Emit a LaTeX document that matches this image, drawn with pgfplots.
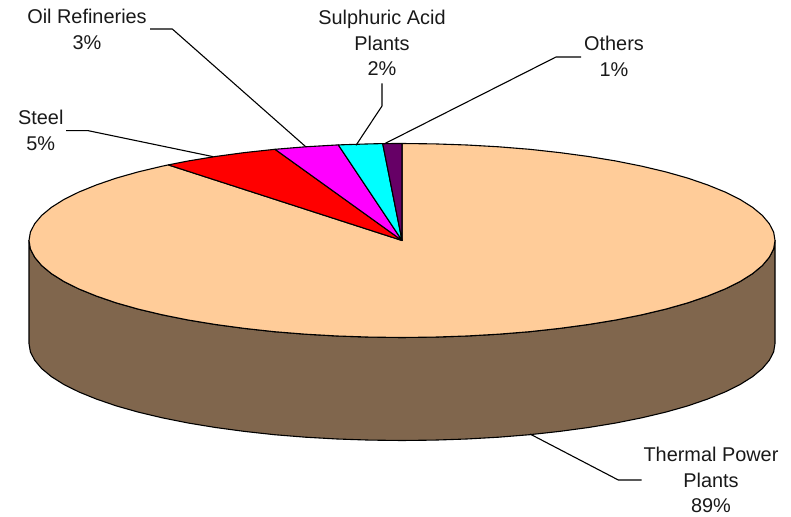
\documentclass[border=0pt]{standalone}
\usepackage{fontspec}
\setmainfont{Liberation Sans}
\usepackage{pgfplots}
\pgfplotsset{compat=1.18}
\definecolor{peach}{HTML}{FFCC99}
\definecolor{wall}{HTML}{80664D}
\definecolor{plum}{HTML}{660066}
\definecolor{purered}{HTML}{FF0000}
\definecolor{puremagenta}{HTML}{FF00FF}
\definecolor{purecyan}{HTML}{00FFFF}
\tikzset{lab/.style={font=\fontsize{19.9}{25.3}\selectfont, align=center, anchor=center, text=black!90, inner sep=0pt}}
\begin{document}
\begin{tikzpicture}
\begin{axis}[
  scale only axis, width=791pt, height=516pt,
  xmin=-402, xmax=389, ymin=-275.5, ymax=240.5,
  hide axis, clip=false,
  every axis plot/.append style={line width=1.1pt, mark=none, line join=round},
]
% side wall
\addplot[draw=black, fill=wall] coordinates {
(-373,0)(-371.6,-8.5)(-367.3,-16.8)(-360.3,-25.1)(-350.5,-33.2)(-338.1,-41)(-323,-48.5)(-305.5,-55.6)(-285.7,-62.4)(-263.8,-68.6)(-239.8,-74.3)(-213.9,-79.5)(-186.5,-84)(-157.6,-87.9)(-127.6,-91.2)(-96.5,-93.7)(-64.8,-95.5)(-32.5,-96.6)(0,-97)
(32.5,-96.6)(64.8,-95.5)(96.5,-93.7)(127.6,-91.2)(157.6,-87.9)(186.5,-84)(213.9,-79.5)(239.8,-74.3)(263.8,-68.6)(285.7,-62.4)(305.5,-55.6)(323,-48.5)(338.1,-41)(350.5,-33.2)(360.3,-25.1)(367.3,-16.8)(371.6,-8.5)(373,0)
(373,-103)(371.6,-111.5)(367.3,-119.8)(360.3,-128.1)(350.5,-136.2)(338.1,-144)(323,-151.5)(305.5,-158.6)(285.7,-165.4)(263.8,-171.6)(239.8,-177.3)(213.9,-182.5)(186.5,-187)(157.6,-190.9)(127.6,-194.2)(96.5,-196.7)(64.8,-198.5)(32.5,-199.6)(0,-200)
(-32.5,-199.6)(-64.8,-198.5)(-96.5,-196.7)(-127.6,-194.2)(-157.6,-190.9)(-186.5,-187)(-213.9,-182.5)(-239.8,-177.3)(-263.8,-171.6)(-285.7,-165.4)(-305.5,-158.6)(-323,-151.5)(-338.1,-144)(-350.5,-136.2)(-360.3,-128.1)(-367.3,-119.8)(-371.6,-111.5)(-373,-103)
} --cycle;
% thermal power plants (top face)
\addplot[draw=black, fill=peach] coordinates {
(0,0)(-233.7,75.6)(-239.8,74.3)(-263.8,68.6)(-285.7,62.4)(-305.5,55.6)(-323,48.5)(-338.1,41)(-350.5,33.2)(-360.3,25.1)(-367.3,16.8)(-371.6,8.5)(-373,0)
(-371.6,-8.5)(-367.3,-16.8)(-360.3,-25.1)(-350.5,-33.2)(-338.1,-41)(-323,-48.5)(-305.5,-55.6)(-285.7,-62.4)(-263.8,-68.6)(-239.8,-74.3)(-213.9,-79.5)(-186.5,-84)(-157.6,-87.9)(-127.6,-91.2)(-96.5,-93.7)(-64.8,-95.5)(-32.5,-96.6)(0,-97)
(32.5,-96.6)(64.8,-95.5)(96.5,-93.7)(127.6,-91.2)(157.6,-87.9)(186.5,-84)(213.9,-79.5)(239.8,-74.3)(263.8,-68.6)(285.7,-62.4)(305.5,-55.6)(323,-48.5)(338.1,-41)(350.5,-33.2)(360.3,-25.1)(367.3,-16.8)(371.6,-8.5)(373,0)
(371.6,8.5)(367.3,16.8)(360.3,25.1)(350.5,33.2)(338.1,41)(323,48.5)(305.5,55.6)(285.7,62.4)(263.8,68.6)(239.8,74.3)(213.9,79.5)(186.5,84)(157.6,87.9)(127.6,91.2)(96.5,93.7)(64.8,95.5)(32.5,96.6)(0,97)
} --cycle;
% steel
\addplot[draw=black, fill=purered] coordinates {(0,0)(-233.7,75.6)(-213.9,79.5)(-186.5,84)(-157.6,87.9)(-127,91.2)} --cycle;
% oil refineries
\addplot[draw=black, fill=puremagenta] coordinates {(0,0)(-127,91.2)(-96.5,93.7)(-63.7,95.6)} --cycle;
% sulphuric acid plants
\addplot[draw=black, fill=purecyan] coordinates {(0,0)(-63.7,95.6)(-32.5,96.6)(-19.3,96.9)} --cycle;
% others
\addplot[draw=black, fill=plum] coordinates {(0,0)(-19.3,96.9)(0,97)} --cycle;
% leader lines
\addplot[black] coordinates {(-336,109.8)(-313.7,109.8)(-188.7,83.8)};
\addplot[black] coordinates {(-252,211.5)(-229.7,211.5)(-96.3,93.8)};
\addplot[black] coordinates {(-20,157.2)(-20,134.5)(-46,95.2)};
\addplot[black] coordinates {(179,183.5)(154,183.5)(-18,96.5)};
\addplot[black] coordinates {(128,-193.5)(216.3,-239.5)(239.7,-239.5)};
% labels
\node[lab] at (axis cs:-361.2,110) {Steel\\5\%};
\node[lab] at (axis cs:-315,211) {Oil Refineries\\3\%};
\node[lab] at (axis cs:-20,197.5) {Sulphuric Acid\\Plants\\2\%};
\node[lab] at (axis cs:212,184) {Others\\1\%};
\node[lab] at (axis cs:309,-239.5) {Thermal Power\\Plants\\89\%};
\end{axis}
\useasboundingbox (0,0) rectangle (791pt,516pt);
\end{tikzpicture}
\end{document}
